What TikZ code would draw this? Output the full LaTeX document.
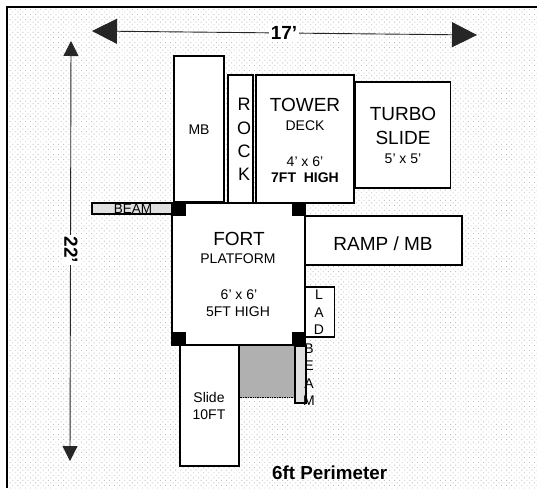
\documentclass[tikz,border=0pt]{standalone}
\usepackage{fontspec}
\setmainfont[Ligatures=ResetAll]{Liberation Sans}
\usetikzlibrary{arrows.meta,patterns.meta}
\newcommand{\fs}[1]{\fontsize{#1}{#1}\selectfont}
\tikzset{
  x=1pt,y=-1pt,
  bx/.style={draw=black,fill=white,line width=1.4pt,inner sep=0pt,outer sep=0pt},
  beambx/.style={bx,fill=black!12},
  post/.style={fill=black,draw=none,minimum width=14pt,minimum height=14pt,inner sep=0pt,outer sep=0pt},
  lab/.style={anchor=base,inner sep=0pt,font=\fs{14}},
  big/.style={anchor=base,inner sep=0pt,font=\fs{19}},
  dim/.style={inner sep=2pt,fill=white,font=\fs{19}\bfseries},
  dimline/.style={line width=0.9pt,black!85}
}
\begin{document}
\begin{tikzpicture}
\useasboundingbox (0,0) rectangle (537,488);
\fill[white] (0,0) rectangle (537,488);
\fill[pattern={Dots[angle=45,distance=3.6pt,radius=0.62pt]},pattern color=black!24] (8,8) rectangle (537,488);
\fill[black] (6,6) rectangle (537,8.4);
\fill[black] (6,6) rectangle (8.4,488);
% dimensions
\coordinate (hl) at (92,31);
\coordinate (hr) at (477,35);
\coordinate (vt) at (71,41);
\coordinate (vb) at (70,461);
\draw[dimline,{Triangle[length=25pt,width=25pt]}-{Triangle[length=25pt,width=25pt]}] (hl) -- (hr);
\draw[dimline,{Triangle[length=15pt,width=15pt]}-{Triangle[length=15pt,width=15pt]}] (vt) -- (vb);
\node[dim] (d17) at (284,33) {17'};
\node[dim,rotate=-90] (d22) at (71,250) {22'};
% beams and shade
\node[beambx,minimum width=80pt,minimum height=11pt] (beamh) at (132,208.5) {};
\node[lab,font=\fs{13.5}] (beamht) at (133,213) {BEAM};
\node[draw=black,densely dotted,line width=0.7pt,fill=black!31,minimum width=55pt,minimum height=52pt,inner sep=0pt,outer sep=0pt] (shade) at (267,371.5) {};
% boxes
\node[bx,minimum width=50pt,minimum height=146pt] (mb) at (199,129) {};
\node[bx,minimum width=25pt,minimum height=128pt] (rock) at (240.5,139) {};
\node[bx,minimum width=98pt,minimum height=128pt] (tower) at (305,139) {};
\node[bx,minimum width=95pt,minimum height=106pt] (turbo) at (403,135) {};
\node[bx,minimum width=157pt,minimum height=49pt] (ramp) at (383.5,240.5) {};
\node[bx,minimum width=29pt,minimum height=50pt] (lad) at (320,312) {};
\node[bx,minimum width=133pt,minimum height=142pt] (fort) at (238.5,274) {};
\node[bx,minimum width=59pt,minimum height=121pt] (slide) at (209.5,405.5) {};
\node[beambx,minimum width=11pt,minimum height=57pt] (beamv) at (300.5,374.5) {};
% posts
\node[post] (p1) at (179,209) {};
\node[post] (p2) at (299,209) {};
\node[post] (p3) at (179,338.5) {};
\node[post] (p4) at (299,339) {};
% texts
\node[lab] (t1) at (199,134) {MB};
\node[lab,font=\fs{18}] at (244,110) {R};
\node[lab,font=\fs{18}] at (244,134) {O};
\node[lab,font=\fs{18}] at (244,157.5) {C};
\node[lab,font=\fs{18}] at (244,180) {K};
\node[big] at (305,111) {TOWER};
\node[lab] at (305,130) {DECK};
\node[lab] at (305,166) {4' x 6'};
\node[lab,font=\fs{14}\bfseries] at (305,182) {7FT\ \ HIGH};
\node[big] at (403,120) {TURBO};
\node[big] at (403,144) {SLIDE};
\node[lab] at (403,163) {5' x 5'};
\node[big] at (239,245) {FORT};
\node[lab] at (238,263) {PLATFORM};
\node[lab] at (239,299) {6' x 6'};
\node[lab] at (238,316) {5FT HIGH};
\node[big] at (383,250) {RAMP / MB};
\node[lab] at (319,299) {L};
\node[lab] at (319,317) {A};
\node[lab] at (319,334) {D};
\node[lab] at (309,353) {B};
\node[lab] at (309,370) {E};
\node[lab] at (309,388) {A};
\node[lab] at (309,405) {M};
\node[lab] at (209,402) {Slide};
\node[lab] at (209,419) {10FT};
\node[anchor=base west,inner sep=0pt,font=\fs{18.8}\bfseries] at (272,479) {6ft Perimeter};
\end{tikzpicture}
\end{document}
